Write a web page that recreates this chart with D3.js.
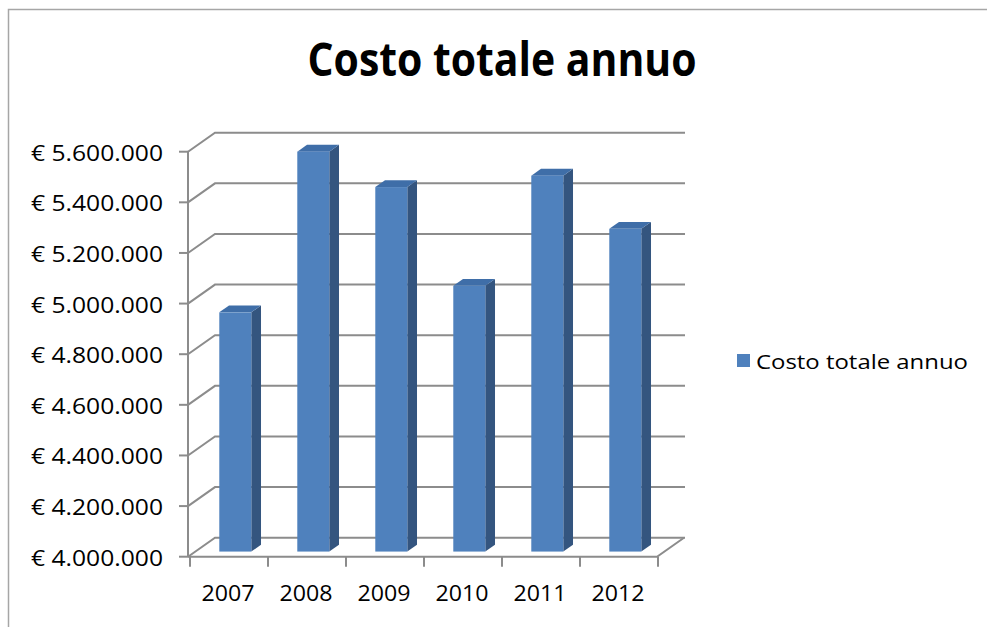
<!DOCTYPE html>
<html>
<head>
<meta charset="utf-8">
<script src="https://cdn.jsdelivr.net/npm/d3@7"></script>
<style>
  html, body { margin: 0; padding: 0; background: #fff; }
  svg { display: block; }
  text { font-family: "Open Sans", "Noto Sans", sans-serif; fill: #000; }
</style>
</head>
<body>
<script>
// Annual total cost, 2007-2012
const years = ["2007", "2008", "2009", "2010", "2011", "2012"];
const costs = [4945000, 5580000, 5440000, 5050000, 5485000, 5275000];
const valueTicks = [4000000, 4200000, 4400000, 4600000, 4800000, 5000000, 5200000, 5400000, 5600000];
const chartTitle = "Costo totale annuo";
const seriesName = "Costo totale annuo";

const W = 987, H = 627;
const svg = d3.select("body").append("svg").attr("width", W).attr("height", H);

// Outer chart border
svg.append("path")
  .attr("d", "M8.5,627 V9.5 H987")
  .attr("fill", "none").attr("stroke", "#a6a6a6").attr("stroke-width", 1.5);

// Oblique projection: depth of the floor/walls
const DX = 27, DY = -19;

const x = d3.scaleBand().domain(years).range([189, 657]);
const y = d3.scaleLinear().domain([4000000, 5600000]).range([556.7, 151.7]);

const euro = d3.formatLocale({ decimal: ",", thousands: ".", grouping: [3], currency: ["€ ", ""] });
const fmt = euro.format("$,.0f");

const gridColor = "#8c8c8c";
const grid = svg.append("g").attr("fill", "none").attr("stroke", gridColor).attr("stroke-width", 2);

// Back-wall gridlines and side-wall diagonals
valueTicks.forEach(v => {
  const yy = y(v);
  grid.append("path").attr("d", `M188,${yy} L${188 + DX},${yy + DY} H${657 + DX + 1}`);
});

// Front value axis line
grid.append("line").attr("x1", 188).attr("x2", 188).attr("y1", y(5600000)).attr("y2", y(4000000));
// Floor front edge (category axis) and right floor edge
grid.append("path").attr("d", `M188,${y(4000000)} H657 L${657 + DX},${y(4000000) + DY}`);

// Value axis ticks and labels
const yAxis = svg.append("g");
valueTicks.forEach(v => {
  yAxis.append("line").attr("x1", 179).attr("x2", 188).attr("y1", y(v)).attr("y2", y(v))
    .attr("stroke", gridColor).attr("stroke-width", 2);
  yAxis.append("text")
    .attr("x", 163).attr("y", y(v) + 9)
    .attr("text-anchor", "end")
    .attr("font-size", 21)
    .attr("textLength", 132).attr("lengthAdjust", "spacingAndGlyphs")
    .text(fmt(v));
});

// Category axis ticks and labels
const xAxis = svg.append("g");
const tickXs = years.map(d => x(d)).concat([x.range()[1]]);
tickXs.forEach(tx => {
  xAxis.append("line").attr("x1", tx + 1).attr("x2", tx + 1).attr("y1", y(4000000)).attr("y2", y(4000000) + 10)
    .attr("stroke", gridColor).attr("stroke-width", 2);
});
years.forEach(d => {
  xAxis.append("text")
    .attr("x", x(d) + x.bandwidth() / 2).attr("y", 601)
    .attr("text-anchor", "middle")
    .attr("font-size", 21)
    .attr("textLength", 53).attr("lengthAdjust", "spacingAndGlyphs")
    .text(d);
});

// 3D columns
const F0 = 0.27, F1 = 0.63;        // bar depth, as fractions of the floor depth
const BW = 32;                      // column front width
const sx = (F1 - F0) * DX, sy = (F1 - F0) * DY;
const colFront = "#4f81bd", colSide = "#34557f", colTop = "#3f6ea8";

const bars = svg.append("g");
years.forEach((d, i) => {
  const v = costs[i];
  const x0 = x(d) + x.bandwidth() / 2 - BW / 2 + F0 * DX;
  const x1 = x0 + BW;
  const yt = y(v) + F0 * DY;
  const yb = y(4000000) + F0 * DY;
  const g = bars.append("g");
  // side face
  g.append("path")
    .attr("d", `M${x1},${yt} L${x1 + sx},${yt + sy} L${x1 + sx},${yb + sy} L${x1},${yb} Z`)
    .attr("fill", colSide);
  // top face
  g.append("path")
    .attr("d", `M${x0},${yt} L${x0 + sx},${yt + sy} L${x1 + sx},${yt + sy} L${x1},${yt} Z`)
    .attr("fill", colTop);
  // front face
  g.append("rect")
    .attr("x", x0).attr("y", yt).attr("width", BW).attr("height", yb - yt)
    .attr("fill", colFront);
});

// Title
svg.append("text")
  .attr("x", 502).attr("y", 76)
  .attr("text-anchor", "middle")
  .attr("font-size", 46).attr("font-weight", "bold")
  .attr("textLength", 389).attr("lengthAdjust", "spacingAndGlyphs")
  .text(chartTitle);

// Legend
const legend = svg.append("g");
legend.append("rect").attr("x", 737).attr("y", 354).attr("width", 13).attr("height", 13).attr("fill", colFront);
legend.append("text")
  .attr("x", 756).attr("y", 368.5)
  .attr("font-size", 20)
  .attr("textLength", 212).attr("lengthAdjust", "spacingAndGlyphs")
  .text(seriesName);
</script>
</body>
</html>
